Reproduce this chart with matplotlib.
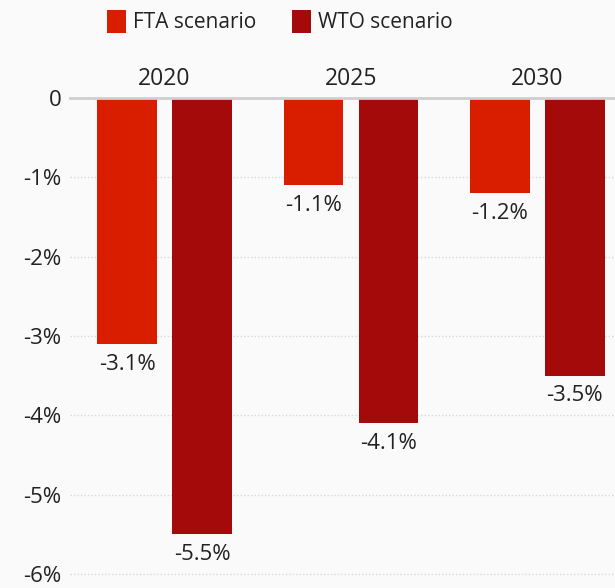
import numpy as np
import matplotlib.pyplot as plt
from matplotlib.patches import Patch

plt.rcParams['font.family'] = ['Open Sans', 'DejaVu Sans']

# Data
years = ['2020', '2025', '2030']
fta = [-3.1, -1.1, -1.2]
wto = [-5.5, -4.1, -3.5]
yticks = [0, -1, -2, -3, -4, -5, -6]
ytick_labels = ['0', '-1%', '-2%', '-3%', '-4%', '-5%', '-6%']

c_fta = '#d91e00'
c_wto = '#a50a0a'
bg = '#fafafa'
txt = '#222222'

fig = plt.figure(figsize=(6.15, 5.88), dpi=100, facecolor=bg)
ax = fig.add_axes([70 / 615, 14 / 588, 545 / 615, 476 / 588], facecolor=bg)

x = np.arange(len(years))
w = 0.32
off = 0.201
b1 = ax.bar(x - off, fta, w, color=c_fta, zorder=3)
b2 = ax.bar(x + off, wto, w, color=c_wto, zorder=3)

for bars, vals in [(b1, fta), (b2, wto)]:
    for rect, v in zip(bars, vals):
        ax.annotate(f'{v:.1f}%', (rect.get_x() + rect.get_width() / 2, v),
                    xytext=(0, -7), textcoords='offset points',
                    ha='center', va='top', fontsize=16, color=txt)

for xi, yr in zip(x, years):
    ax.annotate(yr, (xi, 0), xytext=(0, 5), textcoords='offset points',
                ha='center', va='bottom', fontsize=16.5, color=txt,
                annotation_clip=False)

ax.set_xlim(-0.507, 2.416)
ax.set_ylim(-6.0, 0.0)
ax.set_yticks(yticks)
ax.set_yticklabels(ytick_labels, fontsize=16, color=txt)
for lab in ax.get_yticklabels():
    lab.set_verticalalignment('center_baseline')
ax.set_xticks([])
ax.tick_params(axis='y', length=0, pad=6)
for s in ax.spines.values():
    s.set_visible(False)

for t in yticks[1:]:
    ax.axhline(t, color='#d8d8d8', lw=1.0, ls=(0, (1, 1.5)), zorder=1,
               clip_on=False)
ax.axhline(0, color='#cfcfcf', lw=2.0, zorder=4, clip_on=False)

handles = [Patch(facecolor=c_fta, label='FTA scenario'),
           Patch(facecolor=c_wto, label='WTO scenario')]
fig.legend(handles=handles, loc='center', bbox_to_anchor=(0.455, 0.963),
           ncol=2, frameon=False, fontsize=15, handlelength=0.9,
           handleheight=1.3, handletextpad=0.35, columnspacing=1.7,
           labelcolor=txt)

fig.savefig('out.png', dpi=100, facecolor=bg)
